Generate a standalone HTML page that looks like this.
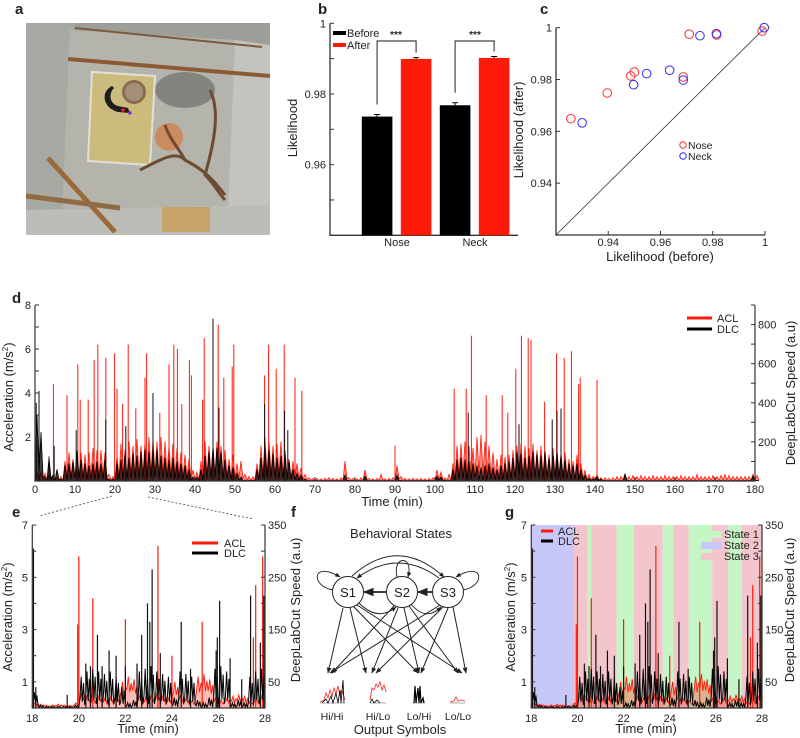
<!DOCTYPE html>
<html><head><meta charset="utf-8">
<style>
html,body{margin:0;padding:0;background:#fff;}
svg{display:block;font-family:"Liberation Sans",Arial,sans-serif;}
text{fill:#222;}
</style></head>
<body>
<svg id="fig" width="800" height="738" viewBox="0 0 800 738" xmlns="http://www.w3.org/2000/svg">
<defs>
<marker id="ah" viewBox="0 0 10 10" refX="9" refY="5" markerWidth="6" markerHeight="6" orient="auto-start-reverse"><path d="M0,1 L10,5 L0,9 z" fill="#222"/></marker>
<clipPath id="clipA"><rect x="26" y="23" width="244" height="212"/></clipPath>
<clipPath id="clipG"><rect x="531.3" y="525" width="230.7" height="183"/></clipPath>
</defs>

<!-- panel labels -->
<text x="15" y="14" font-size="15" font-weight="bold">a</text>
<text x="318" y="14" font-size="15" font-weight="bold">b</text>
<text x="540" y="14" font-size="15" font-weight="bold">c</text>
<text x="12" y="303" font-size="15" font-weight="bold">d</text>
<text x="12" y="517" font-size="15" font-weight="bold">e</text>
<text x="291" y="517" font-size="15" font-weight="bold">f</text>
<text x="505" y="517" font-size="15" font-weight="bold">g</text>

<!-- panel a photo approximation -->
<g clip-path="url(#clipA)">
  <rect x="26" y="23" width="244" height="212" fill="#9d9e98"/>
  <polygon points="26,23 75,23 68,205 26,235" fill="#a7a9a3"/>
  <polygon points="235,40 270,45 270,235 225,235" fill="#c3c4be"/>
  <polygon points="70,30 235,40 228,210 62,212" fill="#b4b4ad"/>
  <polygon points="26,210 270,205 270,235 26,235" fill="#bcbdb7"/>
  <line x1="75" y1="28" x2="262" y2="47" stroke="#7b5b3b" stroke-width="2"/>
  <line x1="68" y1="59" x2="270" y2="76" stroke="#8b5a32" stroke-width="4"/>
  <ellipse cx="185" cy="90" rx="30" ry="18" fill="#5d5d5a" opacity="0.55"/>
  <polygon points="92,72 155,76 150,165 88,161" fill="#cbbb7c" stroke="#e2e0d6" stroke-width="2"/>
  <path d="M112,86 C100,92 103,108 118,112 L130,113 L128,108 L118,106 C110,104 108,94 114,88 z" fill="#1e1e1e"/>
  <circle cx="123" cy="110" r="1.8" fill="#e52020"/><circle cx="130" cy="113" r="1.8" fill="#8030e0"/>
  <circle cx="134" cy="92" r="12" fill="#8a6b52"/><circle cx="134" cy="92" r="9" fill="#a49078"/>
  <circle cx="169" cy="137" r="14" fill="#c98b5f"/>
  <path d="M140,170 C160,160 175,150 185,160 C200,168 210,175 225,195 M165,125 C170,140 180,150 185,160 M210,90 C220,110 215,140 205,175 C215,185 220,195 225,200" stroke="#6e4a30" stroke-width="3" fill="none"/>
  <line x1="48" y1="158" x2="115" y2="232" stroke="#9b6a3a" stroke-width="5"/>
  <line x1="26" y1="196" x2="120" y2="208" stroke="#8f6a42" stroke-width="5"/>
  <rect x="162" y="207" width="48" height="25" fill="#c9a468"/>
</g>

<!-- panel b static -->
<g>
  <text transform="translate(297,128) rotate(-90)" text-anchor="middle" font-size="13">Likelihood</text>
  <rect x="333" y="31" width="13" height="4" fill="#000"/>
  <text x="347" y="37" font-size="11">Before</text>
  <rect x="333" y="43" width="13" height="4" fill="#ff1a0a"/>
  <text x="347" y="49" font-size="11">After</text>
  <text x="396" y="38" text-anchor="middle" font-size="10" font-weight="bold">***</text>
  <text x="475" y="38" text-anchor="middle" font-size="10" font-weight="bold">***</text>
</g>
<g id="gb"></g>

<!-- panel c static -->
<g>
  <text transform="translate(523,130) rotate(-90)" text-anchor="middle" font-size="13">Likelihood (after)</text>
  <text x="660" y="261" text-anchor="middle" font-size="13">Likelihood (before)</text>
  <circle cx="683" cy="145" r="3.2" fill="none" stroke="#ff3030"/>
  <text x="688" y="149" font-size="10.5">Nose</text>
  <circle cx="683" cy="156" r="3.2" fill="none" stroke="#3030ff"/>
  <text x="688" y="160" font-size="10.5">Neck</text>
</g>
<g id="gc"></g>

<!-- panel d static -->
<g>
  <text transform="translate(13,397) rotate(-90)" text-anchor="middle" font-size="13">Acceleration (m/s<tspan font-size="8" dy="-5">2</tspan><tspan dy="5">)</tspan></text>
  <text transform="translate(795,393) rotate(-90)" text-anchor="middle" font-size="13">DeepLabCut Speed (a.u)</text>
  <text x="392" y="506" text-anchor="middle" font-size="13">Time (min)</text>
  <line x1="687" y1="318" x2="712" y2="318" stroke="#ff1a0a" stroke-width="3"/>
  <text x="717" y="322" font-size="11">ACL</text>
  <line x1="687" y1="329" x2="712" y2="329" stroke="#000" stroke-width="3"/>
  <text x="717" y="333" font-size="11">DLC</text>
  <line x1="112" y1="496" x2="39" y2="516" stroke="#444" stroke-width="0.8" stroke-dasharray="2,2"/>
  <line x1="148" y1="497" x2="253" y2="519" stroke="#444" stroke-width="0.8" stroke-dasharray="2,2"/>
</g>
<g id="gd"></g>

<!-- panel e static -->
<g>
  <text transform="translate(12,617) rotate(-90)" text-anchor="middle" font-size="13">Acceleration (m/s<tspan font-size="8" dy="-5">2</tspan><tspan dy="5">)</tspan></text>
  <text transform="translate(300,610) rotate(-90)" text-anchor="middle" font-size="13">DeepLabCut Speed (a.u)</text>
  <text x="148" y="733" text-anchor="middle" font-size="13">Time (min)</text>
</g>
<g id="ge"></g>
<g>
  <line x1="192" y1="543" x2="218" y2="543" stroke="#ff1a0a" stroke-width="3"/>
  <text x="224" y="547" font-size="11">ACL</text>
  <line x1="192" y1="553" x2="218" y2="553" stroke="#000" stroke-width="3"/>
  <text x="224" y="557" font-size="11">DLC</text>
</g>

<!-- panel f diagram -->
<g stroke="#222" fill="none">
  <text x="401" y="538" text-anchor="middle" font-size="13" stroke="none" fill="#222">Behavioral States</text>
  <circle cx="348" cy="592" r="15.5" stroke-width="1"/>
  <circle cx="402" cy="592" r="15.5" stroke-width="1"/>
  <circle cx="448" cy="592" r="15.5" stroke-width="1"/>
  <text x="348" y="597" text-anchor="middle" font-size="13" stroke="none" fill="#222">S1</text>
  <text x="402" y="597" text-anchor="middle" font-size="13" stroke="none" fill="#222">S2</text>
  <text x="448" y="597" text-anchor="middle" font-size="13" stroke="none" fill="#222">S3</text>
  <path d="M333,590 C310,586 312,560 340,577" stroke-width="0.9" marker-end="url(#ah)"/>
  <path d="M397,577 C392,555 414,555 408,577" stroke-width="0.9" marker-end="url(#ah)"/>
  <path d="M463,590 C486,586 484,560 456,577" stroke-width="0.9" marker-end="url(#ah)"/>
  <path d="M352,576 Q398,535 444,577" stroke-width="0.9" marker-end="url(#ah)"/>
  <path d="M439,578 Q398,548 357,578" stroke-width="0.9" marker-end="url(#ah)"/>
  <path d="M386,592 L364,592" stroke-width="1.8" marker-end="url(#ah)"/>
  <path d="M432,592 L418,592" stroke-width="1.8" marker-end="url(#ah)"/>
  <path d="M359,603 Q378,622 396,607" stroke-width="0.9" marker-end="url(#ah)"/>
  <path d="M411,604 Q426,622 441,607" stroke-width="0.9" marker-end="url(#ah)"/>
  <g stroke-width="1">
    <path d="M343,608 L328,673" marker-end="url(#ah)"/><path d="M350,608 L366,673" marker-end="url(#ah)"/>
    <path d="M354,607 L418,673" marker-end="url(#ah)"/><path d="M357,605 L462,673" marker-end="url(#ah)"/>
    <path d="M394,606 L332,673" marker-end="url(#ah)"/><path d="M398,608 L372,673" marker-end="url(#ah)"/>
    <path d="M404,608 L419,673" marker-end="url(#ah)"/><path d="M409,606 L458,673" marker-end="url(#ah)"/>
    <path d="M440,605 L330,673" marker-end="url(#ah)"/><path d="M443,607 L376,673" marker-end="url(#ah)"/>
    <path d="M448,608 L421,673" marker-end="url(#ah)"/><path d="M453,607 L466,673" marker-end="url(#ah)"/>
  </g>
  <g stroke-width="0.8">
    <path d="M320,703 L345,703" stroke="#999"/>
    <path d="M320,702 L324,700 L326,693 L328,698 L330,690 L332,696 L334,688 L336,694 L338,686 L340,695 L342,690 L345,700" stroke="#ff2020"/>
    <path d="M322,703 L326,699 L328,703 L331,696 L333,703 L336,693 L338,703 L340,690 L341,703 L343,680 L344,703" stroke="#000"/>
    <path d="M370,703 L386,703" stroke="#999"/>
    <path d="M370,700 L372,688 L374,690 L376,684 L378,687 L380,682 L382,690 L384,685 L386,692" stroke="#ff2020"/>
    <path d="M370,703 L372,699 L374,703 L377,700 L380,703" stroke="#000"/>
    <path d="M413,703 L425,703" stroke="#999"/>
    <path d="M414,703 L415,686 L416,703 L418,688 L419,703 L420,686 L421,703 L423,698 L424,703" stroke="#000" stroke-width="1.2"/>
    <path d="M450,703 L465,703" stroke="#999"/>
    <path d="M450,702 L454,701 L456,697 L458,701 L461,700 L465,701" stroke="#ff2020"/>
  </g>
  <g stroke="none" fill="#222" font-size="10.5">
    <text x="332" y="720" text-anchor="middle">Hi/Hi</text>
    <text x="378" y="720" text-anchor="middle">Hi/Lo</text>
    <text x="419" y="720" text-anchor="middle">Lo/Hi</text>
    <text x="458" y="720" text-anchor="middle">Lo/Lo</text>
  </g>
  <text x="400" y="734" text-anchor="middle" font-size="13" stroke="none" fill="#222">Output Symbols</text>
</g>

<!-- panel g -->
<g id="gg"></g>
<g>
  <text transform="translate(515,617) rotate(-90)" text-anchor="middle" font-size="13">Acceleration (m/s<tspan font-size="8" dy="-5">2</tspan><tspan dy="5">)</tspan></text>
  <text transform="translate(794,610) rotate(-90)" text-anchor="middle" font-size="13">DeepLabCut Speed (a.u)</text>
  <text x="646" y="733" text-anchor="middle" font-size="13">Time (min)</text>
  <line x1="541" y1="531" x2="553" y2="531" stroke="#ff1a0a" stroke-width="3"/>
  <text x="558" y="535" font-size="11">ACL</text>
  <line x1="541" y1="541" x2="553" y2="541" stroke="#000" stroke-width="3"/>
  <text x="558" y="545" font-size="11">DLC</text>
  <rect x="701" y="531" width="20" height="7" fill="#c6f5c6"/>
  <text x="724" y="538" font-size="11">State 1</text>
  <rect x="701" y="542" width="20" height="7" fill="#c8c8f8"/>
  <text x="724" y="549" font-size="11">State 2</text>
  <rect x="701" y="553" width="20" height="7" fill="#f2c6cc"/>
  <text x="724" y="560" font-size="11">State 3</text>
</g>

<script>
// ---------- data ----------
const barGroups = ['Nose', 'Neck'];
const beforeVals = [0.9736, 0.9768];
const afterVals = [0.9899, 0.9902];
const beforeErr = [0.0006, 0.0007];
const afterErr = [0.0004, 0.0004];

const noseX = [0.9257, 0.9396, 0.9486, 0.9500, 0.9687, 0.9710, 0.9815, 0.9989];
const noseY = [0.9649, 0.9748, 0.9814, 0.9829, 0.9810, 0.9975, 0.9972, 0.9987];
const neckX = [0.9300, 0.9497, 0.9547, 0.9635, 0.9687, 0.9751, 0.9814, 0.9997];
const neckY = [0.9633, 0.9780, 0.9823, 0.9836, 0.9798, 0.9969, 0.9977, 1.0000];

const aclLevel = [0.4,0.4,0.35,0.3,0.2,0.15,0.2,0.9,1.3,1.0,
1.4,1.3,1.2,1.3,1.5,1.4,1.4,1.3,0.3,0.2,
1.2,1.7,1.4,1.8,1.6,1.9,1.6,1.8,2.0,1.9,
1.8,2.0,1.8,1.6,1.7,1.5,1.3,1.2,1.0,0.5,
0.4,0.9,1.8,1.6,1.5,1.8,1.6,1.4,1.0,1.2,
0.8,0.9,0.3,0.2,0.2,0.8,1.6,2.0,1.8,1.6,
1.7,1.8,1.4,1.0,0.9,0.8,0.6,0.3,0.15,0.12,
0.12,0.1,0.12,0.15,0.12,0.1,0.15,0.9,0.15,0.12,
0.1,0.15,0.5,0.12,0.1,0.12,0.3,0.1,0.12,0.15,
0.7,0.2,0.12,0.1,0.12,0.1,0.12,0.1,0.12,0.15,
0.5,0.4,0.15,0.3,0.8,1.6,1.7,1.8,1.6,1.5,
2.0,2.1,1.8,1.6,1.3,1.0,1.2,1.1,1.2,1.4,
1.6,1.7,1.6,1.5,1.7,1.4,1.6,1.4,1.2,1.5,
1.4,1.2,1.3,1.0,0.9,1.2,0.8,0.5,0.3,0.2,
0.3,0.15,0.15,0.12,0.15,0.2,0.2,0.3,0.2,0.25,
0.2,0.25,0.2,0.2,0.25,0.2,0.2,0.25,0.2,0.2,
0.2,0.25,0.2,0.2,0.2,0.3,0.2,0.2,0.2,0.25,
0.2,0.25,0.3,0.25,0.2,0.2,0.2,0.2,0.2,0.3,0.25];
const dlcLevel = [340,250,20,120,30,60,10,80,90,100,
150,110,90,80,90,100,90,110,10,10,
90,110,130,120,140,130,150,160,150,170,
160,130,120,110,120,100,90,80,60,20,
20,60,130,150,180,170,150,110,80,70,
40,20,5,5,5,60,120,170,160,140,
120,130,140,100,60,40,30,10,3,3,
3,3,3,3,3,3,3,30,3,3,
3,3,25,3,3,3,3,3,3,3,
30,3,3,3,3,3,3,3,3,3,
25,20,5,5,60,110,120,110,100,90,
80,70,80,90,70,60,80,90,100,120,
150,140,120,130,150,140,130,150,120,130,
150,140,110,90,80,90,60,30,15,10,
20,10,3,3,3,3,3,35,3,3,
3,3,3,3,3,3,3,3,3,3,
3,3,3,3,3,3,3,3,3,3,
3,3,3,3,3,3,3,3,3,25,3];
const aclSpikeT = [4.6,8,10.7,11.3,13.3,14.8,15.7,17.7,19.9,20.5,21.9,23.3,25.2,27.5,27.9,31.2,33.5,34.7,35.6,36.7,38.6,39.1,41.9,42.3,45.8,47.2,49.3,49.7,57.4,58.4,60.3,62.3,65,66.7,90,104.8,107.8,109.1,112.8,116.8,118.2,120.2,121.6,123.3,124,127.4,130.4,132.3,134.1,135.9,136.3,140.5];
const aclSpikeV = [4.4,3.9,5.3,3.7,3.7,5.5,6.2,5.6,5.8,4.2,3.5,6.2,3.3,4.7,5.8,3.1,5.3,6.2,6.0,3.5,5.5,4.8,3.7,6.5,7.1,4.7,5.2,6.2,4.8,6.2,5.1,6.2,4.7,4.1,1.6,4.2,4.2,6.6,3.9,3.9,3.1,5.1,6.6,6.5,6.4,3.6,5.8,5.6,5.9,4.4,4.7,4.6];
const dlcSpikeT = [0.3,1,3.5,4.8,10.3,17.7,22.7,29.5,44.5,46,57.4,62.4,63.2,108.3,121,129.3,130.5,131.5];
const dlcSpikeV = [400,460,125,180,260,315,280,450,830,375,395,360,260,350,290,315,360,370];

// zoom window 18-28 min, quarter-minute bins
const eAclLevel = [0.2,0.15,0.1,0.12,0.15,0.12,0.1,0.2, 0.6,0.5,0.4,0.5,0.4,0.45,0.5, 1.0,1.2,1.1, 0.5,0.4,0.5,0.6,0.5,0.4, 1.0, 0.5,0.4,0.3, 1.2,1.3,1.1, 0.4,0.3,0.4, 0.45,0.5,0.45, 0.3,0.4,0.5];
const eDlcLevel = [30,5,3,3,3,3,3,5, 60,70,75,70,65,70,60, 40,10,15, 70,75,80,70,65,60, 20, 70,65,60, 15,10,20, 75,80,70, 10,15,10, 60,70,75];
const eAclSpikeT = [19.95,20.0,20.6,22.0,23.4,24.0,25.3,27.5,27.6,27.9];
const eAclSpikeV = [3.2,5.8,4.2,3.4,6.2,2.0,3.3,2.7,4.7,5.8];
const eDlcSpikeT = [18.05,18.15,19.5,20.3,20.5,20.8,21.0,21.3,21.6,22.0,22.5,22.7,22.95,23.05,23.15,23.5,24.4,24.8,25.9,25.95,26.05,26.5,27.0,27.38,27.8,27.95];
const eDlcSpikeV = [305,40,25,85,80,140,80,110,100,80,85,140,200,165,265,105,165,75,110,135,205,95,55,215,125,215];

const stateStart = [18, 19.85, 20.45, 20.6, 21.7, 22.45, 23.7, 24.15, 24.82, 25.84, 26.54, 27.13];
const stateEnd = [19.85, 20.45, 20.6, 21.7, 22.45, 23.7, 24.15, 24.82, 25.84, 26.54, 27.13, 28];
const stateId = [2, 3, 1, 3, 1, 3, 1, 3, 1, 3, 1, 3];

// ---------- helpers ----------
const NS = 'http://www.w3.org/2000/svg';
function el(tag, attrs, parent) {
  const e = document.createElementNS(NS, tag);
  for (const k in attrs) e.setAttribute(k, attrs[k]);
  parent.appendChild(e);
  return e;
}
const AX = '#333';

// ---------- panel b ----------
(function () {
  const g = document.getElementById('gb');
  const y = v => 235.3 - (v - 0.94) / 0.06 * 212;
  const gc = i => 397 + i * 78;
  const ax = el('path', {d: 'M330,23.3 L330,235.3 L518,235.3', stroke: AX, 'stroke-width': 1.3, fill: 'none'}, g);
  
  
  [0.94, 0.95, 0.96, 0.97, 0.98, 0.99, 1.0].forEach(v => {
    const t = el('line', {x1: 330, x2: 334, y1: y(v), y2: y(v), stroke: AX}, g);
    
    
  });
  [[0.96, '0.96'], [0.98, '0.98'], [1.0, '1']].forEach(p => {
    const t = el('text', {x: 326, y: y(p[0]) + 4, 'text-anchor': 'end', 'font-size': 11}, g);
    t.textContent = p[1];
    
    
  });
  barGroups.forEach((name, i) => {
    const c = gc(i);
    const bb = el('rect', {x: c - 35.2, y: y(beforeVals[i]), width: 30.6, height: 235.3 - y(beforeVals[i]), fill: '#000'}, g);
    
    
    const ba = el('rect', {x: c + 3.8, y: y(afterVals[i]), width: 30.6, height: 235.3 - y(afterVals[i]), fill: '#ff1a0a'}, g);
    
    
    const xb = c - 19.9, xa = c + 19.1;
    const eb = el('path', {d: `M${xb},${y(beforeVals[i])} L${xb},${y(beforeVals[i] + beforeErr[i])} M${xb - 3},${y(beforeVals[i] + beforeErr[i])} L${xb + 3},${y(beforeVals[i] + beforeErr[i])}`, stroke: '#000', 'stroke-width': 1}, g);
    
    
    const ea = el('path', {d: `M${xa},${y(afterVals[i])} L${xa},${y(afterVals[i] + afterErr[i])} M${xa - 3},${y(afterVals[i] + afterErr[i])} L${xa + 3},${y(afterVals[i] + afterErr[i])}`, stroke: '#000', 'stroke-width': 1}, g);
    
    
    const br = el('path', {d: `M${xb},${y(beforeVals[i] + beforeErr[i]) - 10} L${xb},41 L${xa},41 L${xa},${y(afterVals[i] + afterErr[i]) - 5}`, stroke: '#444', 'stroke-width': 1.2, fill: 'none'}, g);
    
    
    const lb = el('text', {x: c, y: 246, 'text-anchor': 'middle', 'font-size': 11}, g);
    lb.textContent = name;
    
    
  });
})();

// ---------- panel c ----------
(function () {
  const g = document.getElementById('gc');
  const x = v => 556 + (v - 0.92) / 0.08 * 209;
  const y = v => 235 - (v - 0.92) / 0.08 * 207.3;
  const ax = el('path', {d: 'M556,27.7 L556,235 L765,235', stroke: AX, 'stroke-width': 1.3, fill: 'none'}, g);
  
  
  const diag = el('line', {x1: x(0.92), y1: y(0.92), x2: x(1), y2: y(1), stroke: '#333', 'stroke-width': 0.8}, g);
  
  
  [0.94, 0.96, 0.98, 1].forEach(v => {
    const tx = el('line', {x1: x(v), x2: x(v), y1: 235, y2: 231, stroke: AX}, g);
    
    
    const lx = el('text', {x: x(v), y: 246, 'text-anchor': 'middle', 'font-size': 11}, g);
    lx.textContent = v === 1 ? '1' : v.toFixed(2);
    
    
    const ty = el('line', {x1: 556, x2: 560, y1: y(v), y2: y(v), stroke: AX}, g);
    
    
    const ly = el('text', {x: 552, y: y(v) + 4, 'text-anchor': 'end', 'font-size': 11}, g);
    ly.textContent = v === 1 ? '1' : v.toFixed(2);
    
    
  });
  noseX.forEach((v, i) => {
    const c = el('circle', {cx: x(v), cy: y(noseY[i]), r: 4.3, fill: 'none', stroke: '#ff3030', 'stroke-width': 1}, g);
    
    
  });
  neckX.forEach((v, i) => {
    const c = el('circle', {cx: x(v), cy: y(neckY[i]), r: 4.3, fill: 'none', stroke: '#3030ff', 'stroke-width': 1}, g);
    
    
  });
})();

// ---------- panel d ----------
(function () {
  const g = document.getElementById('gd');
  const x = t => 35 + t * 4;
  const ya = v => 481 - v * 22;
  const yd = v => 481 - v / 900 * 176;
  let pa = 'M' + x(0) + ',481';
  aclLevel.forEach((v, i) => { pa += ` L${x(i + 0.5)},${ya(v)} L${x(i + 1)},${ya(v * 0.15)}`; });
  const ra = el('path', {d: pa, stroke: '#ff1a0a', 'stroke-width': 0.8, fill: '#ff3a2a', 'fill-opacity': 0.55}, g);
  
  
  aclSpikeT.forEach((t, i) => {
    const s = el('line', {x1: x(t), x2: x(t), y1: 481, y2: ya(aclSpikeV[i]), stroke: '#ff1a0a', 'stroke-width': 1}, g);
    
    
  });
  let pd = 'M' + x(0) + ',481';
  dlcLevel.forEach((v, i) => { pd += ` L${x(i + 0.5)},${yd(v)} L${x(i + 1)},${yd(v * 0.1)}`; });
  const rd = el('path', {d: pd, stroke: '#000', 'stroke-width': 0.8, fill: '#000', 'fill-opacity': 0.75}, g);
  
  
  dlcSpikeT.forEach((t, i) => {
    const s = el('line', {x1: x(t), x2: x(t), y1: 481, y2: yd(dlcSpikeV[i]), stroke: '#111', 'stroke-width': 1}, g);
    
    
  });
  const ax = el('path', {d: 'M35,305.3 L35,481 L755,481 L755,305.3', stroke: AX, 'stroke-width': 1.2, fill: 'none'}, g);
  
  
  for (let v = 0; v <= 8; v++) {
    const t = el('line', {x1: 35, x2: 39, y1: ya(v), y2: ya(v), stroke: AX}, g);
    
    
    if (v > 0 && v % 2 === 0) {
      const l = el('text', {x: 31, y: ya(v) + 4, 'text-anchor': 'end', 'font-size': 11}, g);
      l.textContent = v;
      
      
    }
  }
  for (let v = 0; v <= 900; v += 100) {
    const t = el('line', {x1: 751, x2: 755, y1: yd(v), y2: yd(v), stroke: AX}, g);
    
    
    if (v > 0 && v % 200 === 0) {
      const l = el('text', {x: 758, y: yd(v) + 4, 'font-size': 11}, g);
      l.textContent = v;
      
      
    }
  }
  for (let t = 0; t <= 180; t += 10) {
    const k = el('line', {x1: x(t), x2: x(t), y1: 481, y2: 477, stroke: AX}, g);
    
    
    const l = el('text', {x: x(t), y: 493, 'text-anchor': 'middle', 'font-size': 11}, g);
    l.textContent = t;
    
    
  }
})();

// ---------- panels e & g (shared data) ----------
function drawZoom(g, x0, x1, labelLeftX, labelRightX, prefix) {
  const x = t => x0 + (t - 18) / 10 * (x1 - x0);
  const ya = v => 708 - v * 26.14;
  const yd = v => 708 - v / 50 * 26.14;
  let pa = 'M' + x(18) + ',708';
  eAclLevel.forEach((v, i) => { const t = 18 + i * 0.25; pa += ` L${x(t + 0.06)},${ya(v * 0.6)} L${x(t + 0.125)},${ya(v)} L${x(t + 0.19)},${ya(v * 0.5)} L${x(t + 0.25)},${ya(v * 0.8)}`; });
  pa += ` L${x(28)},708`;
  const ra = el('path', {d: pa, stroke: '#ff1a0a', 'stroke-width': 0.9, fill: '#ff3a2a', 'fill-opacity': 0.35}, g);
  
  
  eAclSpikeT.forEach((t, i) => {
    const s = el('line', {x1: x(t), x2: x(t), y1: 708, y2: ya(eAclSpikeV[i]), stroke: '#ff1a0a', 'stroke-width': 1.2}, g);
    
    
  });
  let pd = 'M' + x(18) + ',708';
  eDlcLevel.forEach((v, i) => { const t = 18 + i * 0.25; pd += ` L${x(t + 0.05)},${yd(v * 0.3)} L${x(t + 0.1)},${yd(v)} L${x(t + 0.15)},${yd(v * 0.2)} L${x(t + 0.2)},${yd(v * 0.8)} L${x(t + 0.25)},${yd(v * 0.1)}`; });
  const rd = el('path', {d: pd, stroke: '#000', 'stroke-width': 1, fill: 'none'}, g);
  
  
  eDlcSpikeT.forEach((t, i) => {
    const s = el('line', {x1: x(t), x2: x(t), y1: 708, y2: yd(eDlcSpikeV[i]), stroke: '#111', 'stroke-width': 1.2}, g);
    
    
  });
  const ax = el('path', {d: `M${x0},525 L${x0},708 L${x1},708 L${x1},525`, stroke: AX, 'stroke-width': 1.2, fill: 'none'}, g);
  
  
  for (let v = 0; v <= 7; v++) {
    const t = el('line', {x1: x0, x2: x0 + 4, y1: ya(v), y2: ya(v), stroke: AX}, g);
    
    
    if (v % 2 === 1) {
      const l = el('text', {x: labelLeftX, y: ya(v) + 4, 'text-anchor': 'end', 'font-size': 11}, g);
      l.textContent = v;
      
      
    }
  }
  for (let v = 0; v <= 350; v += 50) {
    const t = el('line', {x1: x1 - 4, x2: x1, y1: yd(v), y2: yd(v), stroke: AX}, g);
    
    
    if (v % 100 === 50) {
      const l = el('text', {x: labelRightX, y: yd(v) + 4, 'font-size': 11}, g);
      l.textContent = v;
      
      
    }
  }
  for (let t = 18; t <= 28; t += 2) {
    const k = el('line', {x1: x(t), x2: x(t), y1: 708, y2: 704, stroke: AX}, g);
    
    
    const l = el('text', {x: x(t), y: 722, 'text-anchor': 'middle', 'font-size': 11}, g);
    l.textContent = t;
    
    
  }
}
drawZoom(document.getElementById('ge'), 32.3, 265, 28, 268, 'e');

(function () {
  const g = document.getElementById('gg');
  const x = t => 531.3 + (t - 18) / 10 * 230.7;
  const colors = {1: '#c6f5c6', 2: '#c8c8f8', 3: '#f2c6cc'};
  const bg = el('g', {'clip-path': 'url(#clipG)'}, g);
  
  
  stateStart.forEach((s, i) => {
    const r = el('rect', {x: x(s), y: 525, width: x(stateEnd[i]) - x(s), height: 183, fill: colors[stateId[i]]}, bg);
    
    
  });
  drawZoom(g, 531.3, 762, 527, 765, 'g');
})();
</script>
</svg>
</body></html>
